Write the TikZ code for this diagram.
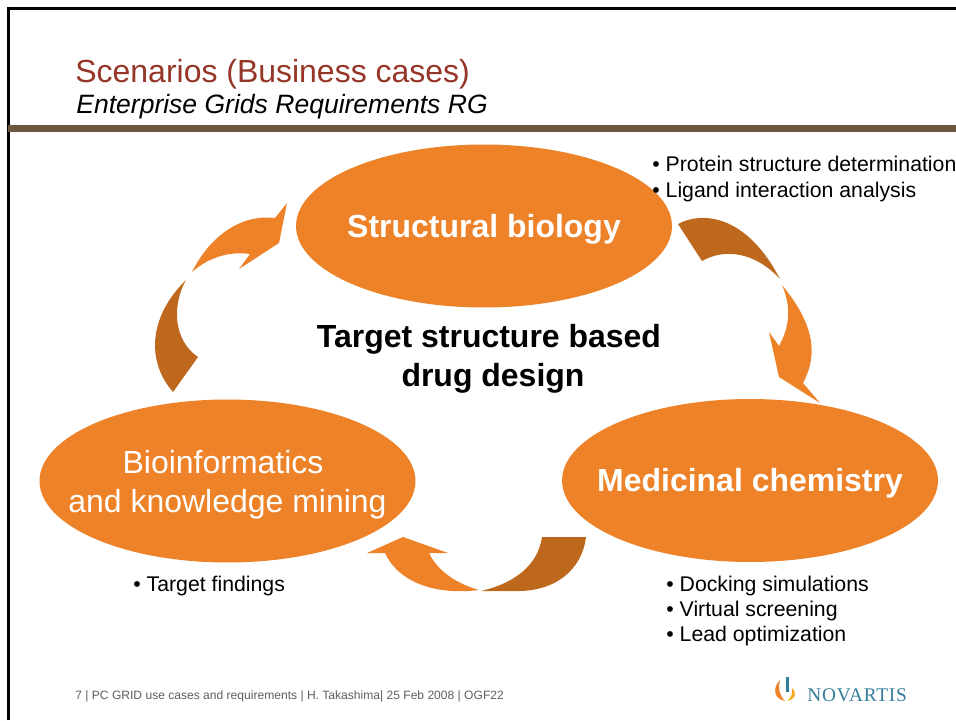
\documentclass[tikz,border=0pt]{standalone}
\usepackage{fontspec}
\setmainfont{Liberation Sans}
\newfontfamily\logofont[LetterSpace=4]{Liberation Serif}
\usepackage{xcolor}
\definecolor{colorb}{RGB}{237,130,40}
\definecolor{colord}{RGB}{190,104,30}
\definecolor{colort}{RGB}{150,54,40}
\definecolor{colorl}{RGB}{107,86,64}
\definecolor{colorf}{RGB}{95,95,95}
\definecolor{colorn}{RGB}{50,125,155}
\usetikzlibrary{shapes.geometric}
\tikzstyle{blob} = [ellipse, fill=colorb, minimum width=7.52cm, minimum height=3.26cm, inner sep=0pt]
\tikzstyle{blobtext} = [align=center, text=white, font=\fontsize{18.2}{22.2}\selectfont]
\tikzstyle{bullets} = [anchor=north west, inner sep=0pt, align=left, font=\fontsize{12.1}{14.4}\selectfont]
\tikzstyle{arrowA} = [fill=colorb]
\tikzstyle{arrowD} = [fill=colord]
\begin{document}
\begin{tikzpicture}[x=0.02cm,y=-0.02cm]
    \useasboundingbox (0,0) rectangle (956,720);
    \fill[white] (0,0) rectangle (956,720);
    \draw[line width=1.3pt, draw=black] (8.5,720) -- (8.5,8.5) -- (956,8.5);
    \fill[colorl] (8,125) rectangle (956,132);

    \node[anchor=west, inner sep=0pt, text=colort, font=\fontsize{18.2}{22}\selectfont] (title) at (75,74) {Scenarios (Business cases)};
    \node[anchor=west, inner sep=0pt, font=\fontsize{15.1}{18}\selectfont\itshape] (subtitle) at (76,107) {Enterprise Grids Requirements RG};

    \node[blob, label={[blobtext, font=\fontsize{18.2}{22.2}\selectfont\bfseries, yshift=-0.06cm]center:Structural biology}] (n1) at (484,226) {};
    \node[blob, label={[blobtext, font=\fontsize{18.2}{22.2}\selectfont\bfseries, yshift=-0.06cm]center:Medicinal chemistry}] (n2) at (750,480.5) {};
    \node[blob, label={[blobtext, yshift=-0.08cm]center:Bioinformatics\hspace*{0.18cm}\\and knowledge mining}] (n3) at (227.5,481) {};

    \node[align=center, inner sep=0pt, font=\fontsize{18.2}{22.2}\selectfont\bfseries] (n4) at (489,359) {Target structure based\\\hspace*{0.16cm}drug design};

    \node[bullets] (t1) at (652,156) {\textbullet{} Protein structure determination\\\textbullet{} Ligand interaction analysis};
    \node[bullets] (t2) at (666,575.5) {\textbullet{} Docking simulations\\\textbullet{} Virtual screening\\\textbullet{} Lead optimization};
    \node[bullets] (t3) at (133,576) {\textbullet{} Target findings};

    % arrows right
    \fill[arrowD] (678,224) .. controls (700,212) and (745,212) .. (780,279)
        .. controls (755,252) and (725,248) .. (702,261) -- cycle;
    \fill[arrowA] (782,285) .. controls (815,325) and (818,355) .. (803,383)
        -- (820,403) -- (779,377) -- (769,332) -- (779,346)
        .. controls (789,328) and (792,308) .. cycle;

    % arrows bottom
    \fill[arrowD] (481,591) .. controls (515,583) and (538,565) .. (542,537)
        -- (586,537) .. controls (582,570) and (555,592) .. (515,591) -- cycle;
    \fill[arrowA] (479,590) .. controls (440,595) and (400,585) .. (385,553)
        -- (367,553) -- (403,537) -- (448,553) -- (429,553)
        .. controls (438,572) and (458,584) .. cycle;

    % arrows left
    \fill[arrowD] (186,280) .. controls (172,305) and (173,340) .. (198,357)
        -- (173,392) .. controls (145,360) and (150,315) .. cycle;
    \fill[arrowA] (192,272) .. controls (212,232) and (245,214) .. (275,218)
        -- (287,203) -- (279,243) -- (239,269) -- (250,254)
        .. controls (228,251) and (208,258) .. cycle;

    \node[anchor=west, inner sep=0pt, text=colorf, font=\fontsize{6.87}{8}\selectfont] (foot) at (75,696) {7 | PC GRID use cases and requirements | H. Takashima| 25 Feb 2008 | OGF22};

    % logo
    \fill[colorb] (780,680) .. controls (772,688) and (774,699) .. (785,701) .. controls (779,695) and (778,688) .. cycle;
    \fill[colorb!70!yellow] (787,701) .. controls (796,699) and (797,693) .. (792,688) .. controls (793,694) and (791,698) .. cycle;
    \fill[colorn] (786,677) rectangle (789,692);
    \node[anchor=west, inner sep=0pt, text=colorn, font=\logofont\fontsize{11}{12}\selectfont] (logo) at (807,695) {NOVARTIS};
\end{tikzpicture}
\end{document}
